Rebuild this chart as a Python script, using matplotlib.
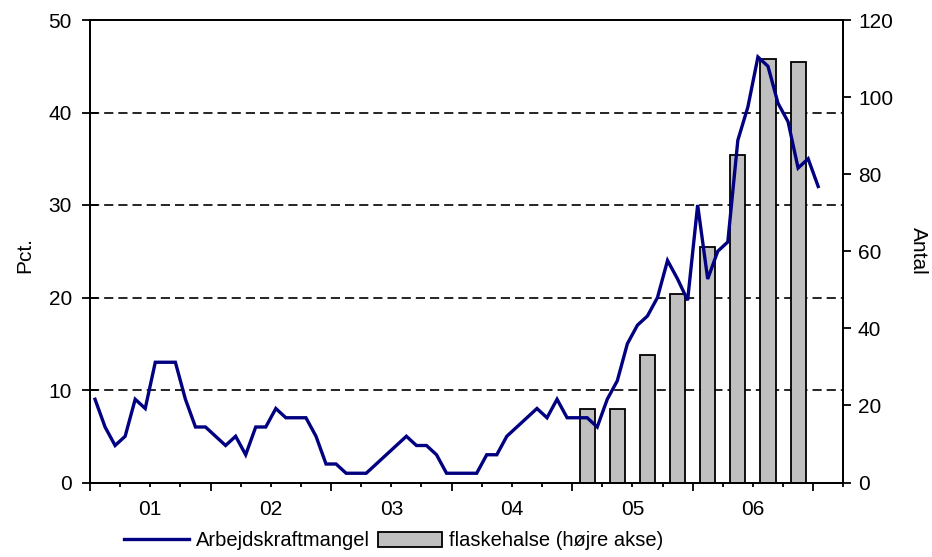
import matplotlib
matplotlib.use("Agg")
import matplotlib.pyplot as plt
from matplotlib.ticker import MultipleLocator, NullFormatter
from matplotlib.lines import Line2D
from matplotlib.patches import Patch

plt.rcParams['font.family'] = ['Liberation Sans', 'DejaVu Sans']

# Monthly share reporting labour shortage (pct.), Jan 2001 - Jan 2007
shortage = [9, 6, 4, 5, 9, 8, 13, 13, 13, 9, 6, 6,
            5, 4, 5, 3, 6, 6, 8, 7, 7, 7, 5, 2,
            2, 1, 1, 1, 2, 3, 4, 5, 4, 4, 3, 1,
            1, 1, 1, 3, 3, 5, 6, 7, 8, 7, 9, 7,
            7, 7, 6, 9, 11, 15, 17, 18, 20, 24, 22, 19.7,
            30, 22, 25, 26, 37, 40.6, 46, 45, 41, 39, 34, 35,
            32]

# Quarterly number of bottlenecks, 2005Q1 - 2006Q4 (right axis)
bottleneck_quarter_start = [48, 51, 54, 57, 60, 63, 66, 69]  # month index of quarter start
bottlenecks = [19, 19, 33, 49, 61, 85, 110, 109]

year_labels = ['01', '02', '03', '04', '05', '06']

n_months = 75
months = [i + 0.5 for i in range(len(shortage))]
bar_x = [m + 1.5 for m in bottleneck_quarter_start]

TICK_FS = 15
LEGEND_FS = 14.5

fig = plt.figure(figsize=(9.32, 5.57), dpi=100)
rect = [90 / 932, 74.5 / 557, 753.3 / 932, 462.5 / 557]
ax = fig.add_axes(rect)
ax2 = ax.twinx()          # bars, right axis
ax3 = ax.twinx()          # line, drawn on top of the bars, left scale

# left axis
ax.set_xlim(0, n_months)
ax.set_ylim(0, 50)
ax.yaxis.set_major_locator(MultipleLocator(10))
for y in [10, 20, 30, 40]:
    ax.axhline(y, color='black', lw=1.2, dashes=(5.5, 3), zorder=0)

# right axis with bars
ax2.set_ylim(0, 120)
ax2.yaxis.set_major_locator(MultipleLocator(20))
ax2.bar(bar_x, bottlenecks, width=1.5, color='#c0c0c0', edgecolor='black',
        linewidth=1.3, zorder=2)

# line on top
ax3.set_ylim(ax.get_ylim())
ax3.plot(months, shortage, color='#000080', lw=2.4, solid_joinstyle='miter', zorder=3)
ax3.axis('off')

for a in (ax, ax2):
    for s in ('top', 'left', 'right', 'bottom'):
        a.spines[s].set_linewidth(1.3)

# x ticks: yearly major, quarterly minor
ax.xaxis.set_major_locator(MultipleLocator(12))
ax.xaxis.set_minor_locator(MultipleLocator(3))
ax.xaxis.set_major_formatter(NullFormatter())
ax.tick_params(axis='x', which='major', direction='out', length=6, width=1.3)
ax.tick_params(axis='x', which='minor', direction='out', length=3, width=1.3)

sec = ax.secondary_xaxis('bottom')
sec.set_xticks([6 + 12 * k for k in range(len(year_labels))], year_labels)
sec.tick_params(length=0, pad=12.5, labelsize=TICK_FS)
sec.spines['bottom'].set_visible(False)

ax.tick_params(axis='y', direction='inout', length=12, width=1.3, labelsize=TICK_FS, pad=7)
ax2.tick_params(axis='y', direction='out', length=5.5, width=1.3, labelsize=TICK_FS, pad=5)
ax2.tick_params(axis='x', which='both', length=0)

fig.text(25 / 932, 1 - 255 / 557, 'Pct.', rotation=90, ha='center', va='center', fontsize=TICK_FS)
fig.text(918 / 932, 1 - 251 / 557, 'Antal', rotation=270, ha='center', va='center', fontsize=TICK_FS)

handles = [Line2D([], [], color='#000080', lw=2.4),
           Patch(facecolor='#c0c0c0', edgecolor='black', linewidth=1.3)]
fig.legend(handles, ['Arbejdskraftmangel', 'flaskehalse (højre akse)'],
           loc='center', bbox_to_anchor=(394 / 932, 16 / 557), ncol=2, frameon=False,
           fontsize=LEGEND_FS, handlelength=3.2, handletextpad=0.35, columnspacing=0.4,
           borderpad=0, borderaxespad=0)

fig.savefig('out.png', dpi=100)
